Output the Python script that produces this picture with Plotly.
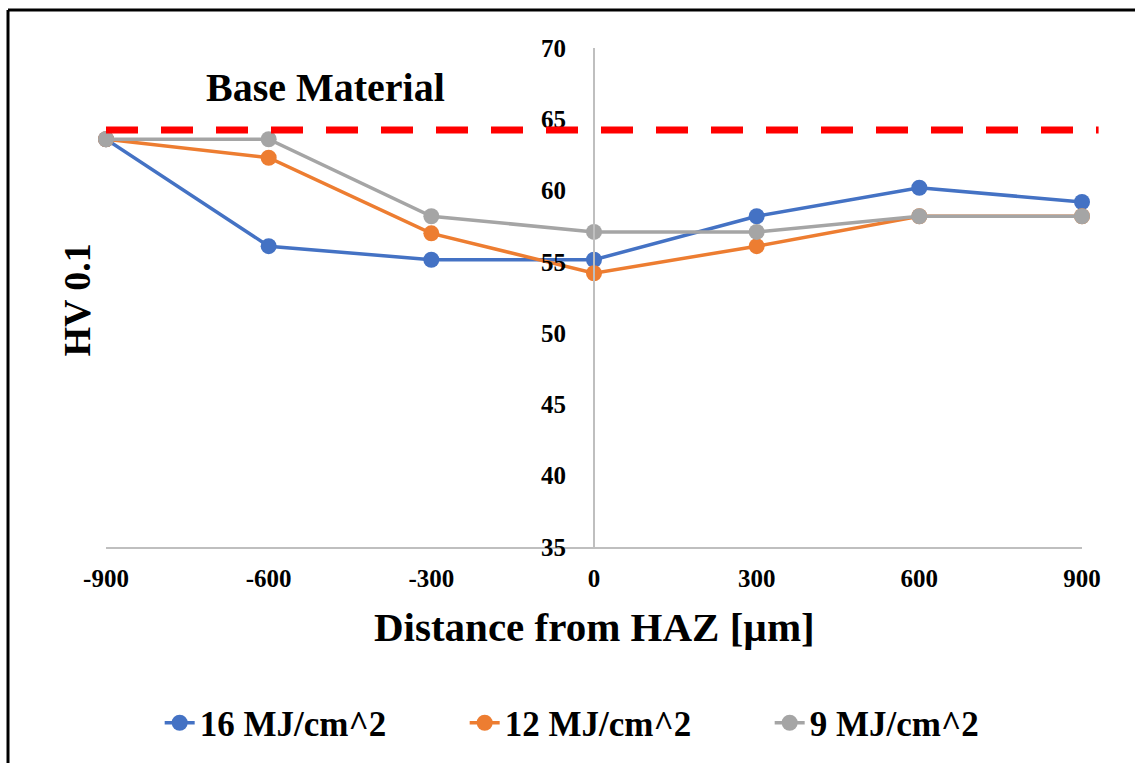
import plotly.graph_objects as go

# Hardness profile across the heat-affected zone
distance_um = [-900, -600, -300, 0, 300, 600, 900]
hv_16 = [63.6, 56.1, 55.15, 55.15, 58.2, 60.2, 59.2]
hv_12 = [63.6, 62.3, 57.0, 54.2, 56.1, 58.2, 58.2]
hv_9 = [63.6, 63.6, 58.2, 57.1, 57.1, 58.2, 58.2]
base_material_hv = 64.25

series_names = ["16 MJ/cm^2", "12 MJ/cm^2", "9 MJ/cm^2"]
series_colors = ["#4472C4", "#ED7D31", "#A5A5A5"]
x_ticks = [-900, -600, -300, 0, 300, 600, 900]
x_tick_labels = ["-900", "-600", "-300", "0", "300", "600", "900"]
y_ticks = [35, 40, 45, 50, 55, 60, 65, 70]

FONT = "Liberation Serif"

fig = go.Figure()
for name, vals, color in zip(series_names, [hv_16, hv_12, hv_9], series_colors):
    fig.add_trace(go.Scatter(
        x=distance_um, y=vals, name=name, mode="lines+markers",
        line=dict(color=color, width=3.5),
        marker=dict(color=color, size=16),
        cliponaxis=False,
    ))

fig.update_layout(
    width=1135, height=763,
    margin=dict(l=106, r=53, t=48, b=215),
    paper_bgcolor="white", plot_bgcolor="white",
    font=dict(family=FONT, color="black", weight="bold"),
    showlegend=True,
    legend=dict(
        orientation="h", x=0.055, xanchor="left", y=-0.35, yanchor="middle",
        font=dict(family=FONT, size=35, color="black", weight="bold"),
        entrywidth=260, entrywidthmode="pixels",
        bgcolor="rgba(0,0,0,0)",
    ),
    xaxis=dict(
        range=[-900, 900], tickvals=x_ticks, ticktext=x_tick_labels,
        showgrid=False, zeroline=False,
        showline=True, linecolor="#BFBFBF", linewidth=2,
        ticks="", ticklabelstandoff=8,
        tickfont=dict(family=FONT, size=25, color="black", weight="bold"),
    ),
    yaxis=dict(
        range=[35, 70], tickvals=y_ticks,
        showgrid=False, zeroline=False,
        showline=True, linecolor="#BFBFBF", linewidth=2,
        anchor="free", position=0.5,
        ticks="", ticklabelstandoff=22,
        tickfont=dict(family=FONT, size=25, color="black", weight="bold"),
    ),
)

# Base material reference hardness
fig.add_shape(
    type="line", xref="paper", yref="y",
    x0=0, x1=1.017, y0=base_material_hv, y1=base_material_hv,
    line=dict(color="#FF0000", width=7, dash="32px,23px"),
    layer="above",
)

# Chart frame (top and left edges)
fig.add_shape(type="line", xref="paper", yref="paper",
              x0=-0.1004, x1=1.1, y0=1.076, y1=1.076,
              line=dict(color="black", width=3))
fig.add_shape(type="line", xref="paper", yref="paper",
              x0=-0.1004, x1=-0.1004, y0=1.076, y1=-0.45,
              line=dict(color="black", width=3))

fig.add_annotation(
    text="Base Material", xref="paper", yref="paper",
    x=0.2254, y=0.92, xanchor="center", yanchor="middle", showarrow=False,
    font=dict(family=FONT, size=40, color="black", weight="bold"),
)
fig.add_annotation(
    text="Distance from HAZ [µm]", xref="paper", yref="paper",
    x=0.5, y=-0.16, xanchor="center", yanchor="middle", showarrow=False,
    font=dict(family=FONT, size=41, color="black", weight="bold"),
)
fig.add_annotation(
    text="HV 0.1", xref="paper", yref="paper",
    x=-0.0287, y=0.496, xanchor="center", yanchor="middle",
    showarrow=False, textangle=-90,
    font=dict(family=FONT, size=38, color="black", weight="bold"),
)

fig.write_html("out.html")
